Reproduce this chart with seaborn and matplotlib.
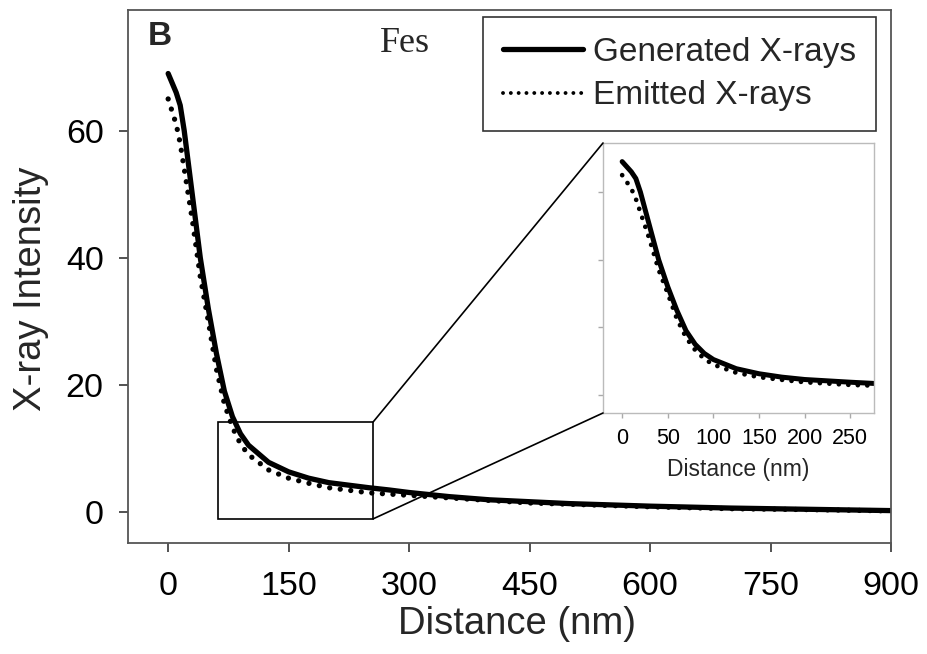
import numpy as np
import pandas as pd
import matplotlib
matplotlib.use("Agg")
import matplotlib.pyplot as plt
import seaborn as sns
from matplotlib.patches import Rectangle, ConnectionPatch
from matplotlib.lines import Line2D

# ---- data ----
distance = [0, 5, 10, 15, 20, 30, 40, 50, 60, 70, 80, 90, 100, 125, 150,
            175, 200, 250, 275, 300, 350, 400, 450, 500, 600, 700, 800, 900]
generated = [69.0, 67.5, 66.0, 64.0, 60.0, 50.0, 40.0, 32.0, 25.0, 19.0, 15.0,
             12.3, 10.5, 7.8, 6.3, 5.3, 4.6, 3.8, 3.45, 3.05, 2.4, 1.9, 1.6, 1.3,
             0.9, 0.6, 0.4, 0.2]
emitted = [65.0, 63.0, 61.0, 58.0, 54.0, 46.0, 37.0, 30.0, 22.5, 17.0, 13.3,
           10.7, 9.0, 6.6, 5.3, 4.5, 3.8, 3.0, 2.8, 2.6, 2.2, 1.8, 1.4, 1.2,
           0.8, 0.5, 0.35, 0.15]
series_labels = ["Generated X-rays", "Emitted X-rays"]
main_xticks = [0, 150, 300, 450, 600, 750, 900]
main_yticks = [0, 20, 40, 60]
inset_xticks = [0, 50, 100, 150, 200, 250]
inset_yticks = [0, 20, 40, 60]
zoom_box = (62.2, -1.1, 255.2, 14.15)  # x0, y0, x1, y1 of the highlighted region

df_gen = pd.DataFrame({"Distance": distance, "Intensity": generated})
df_emi = pd.DataFrame({"Distance": distance, "Intensity": emitted})

sns.set_style("ticks")
plt.rcParams["font.family"] = ["Liberation Sans", "DejaVu Sans"]

fig = plt.figure(figsize=(9.28, 6.54), dpi=100)
ax = fig.add_axes([128 / 928, 1 - 543 / 654, (891 - 128) / 928, (543 - 10) / 654])

sns.lineplot(data=df_gen, x="Distance", y="Intensity", ax=ax, color="black",
             linewidth=3.8, solid_capstyle="round", label=series_labels[0], legend=False)
sns.lineplot(data=df_emi, x="Distance", y="Intensity", ax=ax, color="black",
             linewidth=3.8, linestyle=(0, (0.01, 2.0)), dash_capstyle="round",
             label=series_labels[1], legend=False)

ax.set_xlim(-50, 900)
ax.set_ylim(-4.9, 79)
ax.set_xticks(main_xticks)
ax.set_yticks(main_yticks)
ax.tick_params(axis="both", direction="out", length=6.5, width=1.3, colors="#444444",
               labelcolor="black", labelsize=24.5, pad=11)
ax.tick_params(axis="x", pad=14)
for s in ax.spines.values():
    s.set_visible(True)
    s.set_color("#555555")
    s.set_linewidth(1.3)

ax.set_xlabel("Distance (nm)", fontsize=27.5)
ax.set_ylabel("X-ray Intensity", fontsize=27.5)
ax.xaxis.set_label_coords(0.51, -0.118)
ax.yaxis.set_label_coords(-0.103, 0.476)

ax.text(0.026, 0.979, "B", transform=ax.transAxes, fontsize=24, fontweight="bold",
        va="top", ha="left")
ax.text(0.330, 0.921, "Fes", transform=ax.transAxes, fontsize=26,
        family=["Liberation Serif", "DejaVu Serif"], va="baseline", ha="left")

handles = [Line2D([], [], color="black", linewidth=3.8),
           Line2D([], [], color="black", linewidth=2.8, linestyle=(0, (0.01, 2.0)),
                  dash_capstyle="round")]
leg = ax.legend(handles, series_labels, loc="upper right", bbox_to_anchor=(0.980, 0.987),
                borderaxespad=0, fontsize=24, frameon=True, fancybox=False,
                edgecolor="black", handlelength=2.4, handletextpad=0.3,
                labelspacing=0.37, borderpad=0.6)
leg.get_frame().set_linewidth(1.2)

x0, y0, x1, y1 = zoom_box
ax.add_patch(Rectangle((x0, y0), x1 - x0, y1 - y0, fill=False, edgecolor="black",
                       linewidth=1.2, zorder=5))

# ---- inset ----
axin = fig.add_axes([603 / 928, 1 - 413 / 654, (874 - 603) / 928, (413 - 143) / 654])
sns.lineplot(data=df_gen, x="Distance", y="Intensity", ax=axin,
             color="black", linewidth=3.6, solid_capstyle="round", legend=False)
sns.lineplot(data=df_emi, x="Distance", y="Intensity", ax=axin,
             color="black", linewidth=3.4, linestyle=(0, (0.01, 2.0)),
             dash_capstyle="round", legend=False)
axin.set_xlim(-21, 276)
axin.set_ylim(-5.3, 74.5)
axin.set_xticks(inset_xticks)
axin.set_yticks(inset_yticks)
axin.set_yticklabels([])
axin.tick_params(axis="both", direction="out", length=3.5, width=1.0, colors="#aaaaaa",
                 labelcolor="black", labelsize=15.5, pad=7.5)
for s in axin.spines.values():
    s.set_visible(True)
    s.set_color("#bbbbbb")
    s.set_linewidth(1.0)
axin.set_xlabel("Distance (nm)", fontsize=16.5, labelpad=6)
axin.set_ylabel("")

for (xa, ya), (xb, yb) in [((x1, y1), (0, 1)), ((x1, y0), (0, 0))]:
    con = ConnectionPatch(xyA=(xa, ya), coordsA=ax.transData,
                          xyB=(xb, yb), coordsB=axin.transAxes,
                          color="black", linewidth=1.2)
    fig.add_artist(con)

fig.savefig("out.png", dpi=100)
